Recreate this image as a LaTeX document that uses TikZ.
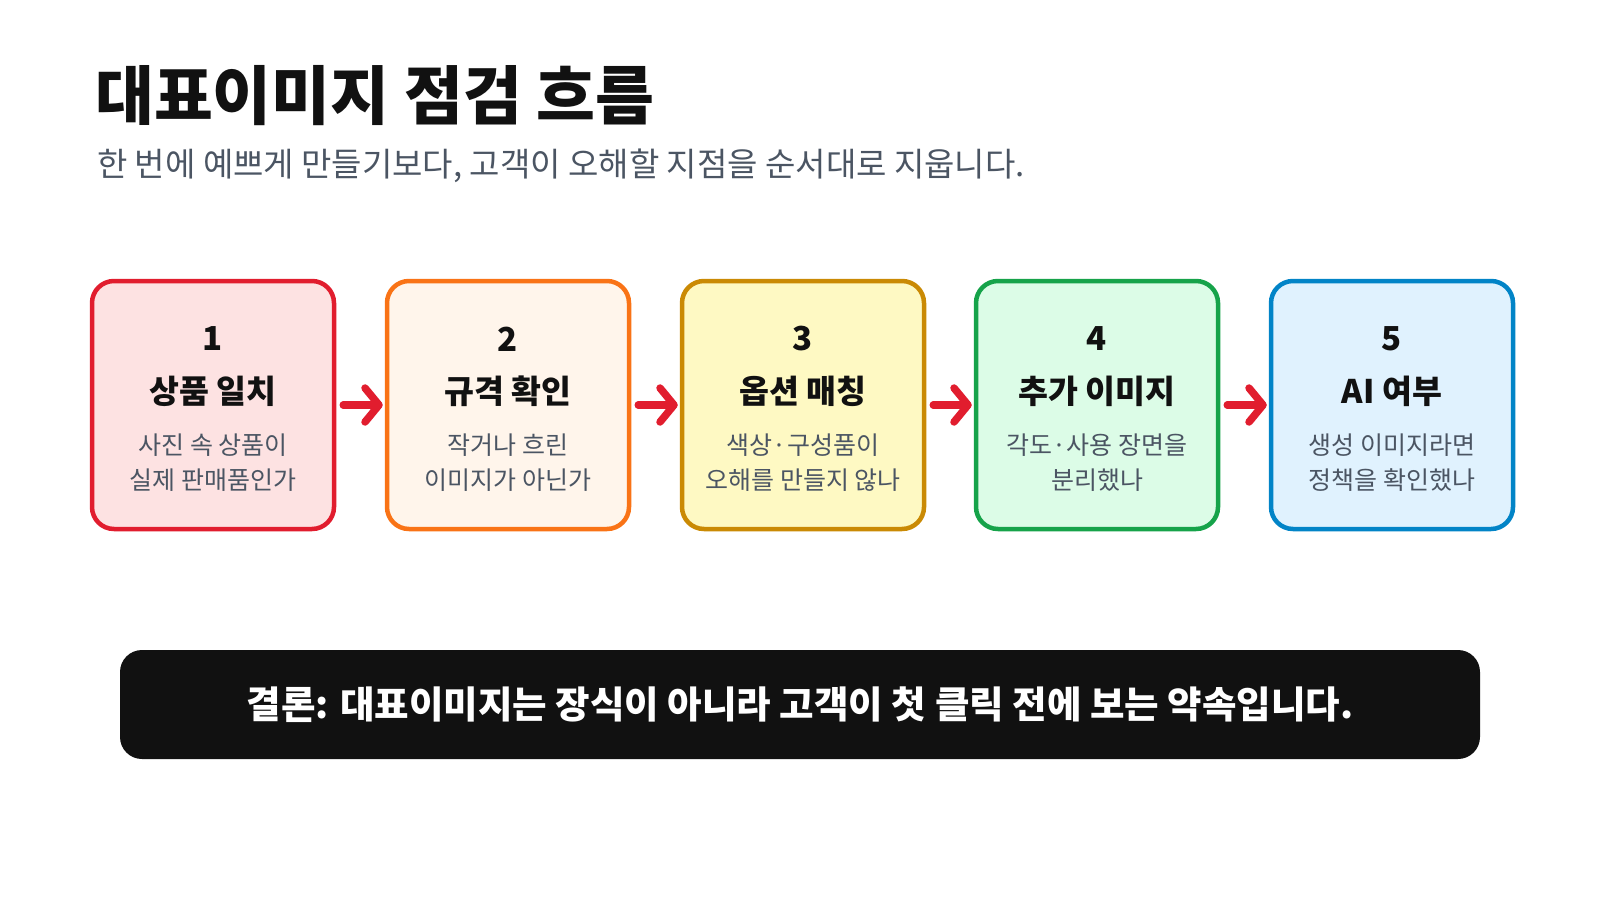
\documentclass[tikz,border=0pt]{standalone}
\usepackage{fontspec}
\setmainfont{Noto Sans CJK KR}
\usetikzlibrary{arrows.meta}

\definecolor{ink}{HTML}{111111}
\definecolor{subgray}{HTML}{4B5563}
\definecolor{arrowred}{HTML}{E11D2E}
\definecolor{redline}{HTML}{E11D2E}
\definecolor{redfill}{HTML}{FDE2E2}
\definecolor{orangeline}{HTML}{F97316}
\definecolor{orangefill}{HTML}{FFF5EB}
\definecolor{goldline}{HTML}{CA8A04}
\definecolor{goldfill}{HTML}{FEF9C3}
\definecolor{greenline}{HTML}{16A34A}
\definecolor{greenfill}{HTML}{DCFCE7}
\definecolor{blueline}{HTML}{0284C7}
\definecolor{bluefill}{HTML}{E0F2FE}

\begin{document}
\begin{tikzpicture}[x=1pt, y=-1pt,
	stepbox/.style={draw, line width=4.5pt, rounded corners=22pt, minimum width=242pt, minimum height=248pt, inner sep=0pt},
	numtext/.style={inner sep=0pt, text=ink, font=\fontsize{33}{38}\selectfont\bfseries},
	headtext/.style={inner sep=0pt, text=ink, font=\fontsize{32.5}{38}\selectfont\bfseries},
	desctext/.style={inner sep=0pt, text=subgray, font=\fontsize{25}{30}\selectfont},
	flow/.style={arrowred, line width=7.5pt, line cap=round, shorten <=7pt, shorten >=2pt, -{Straight Barb[length=14pt, width=34pt, round]}}]
			\useasboundingbox (0,0) rectangle (1600,900);
			\node[anchor=west, inner sep=0pt, text=ink, font=\fontsize{64}{76}\selectfont\bfseries] (title) at (95,96) {대표이미지 점검 흐름};
			\node[anchor=west, inner sep=0pt, text=subgray, font=\fontsize{33}{40}\selectfont] (subtitle) at (97,166) {한 번에 예쁘게 만들기보다, 고객이 오해할 지점을 순서대로 지웁니다.};
			% steps
			\node[stepbox, color=redline, fill=redfill] (s1) at (213,405) {};
			\node[numtext] (n1) at (213,339) {1};
			\node[headtext] (h1) at (213,391) {상품 일치};
			\node[desctext] (d1a) at (213,445) {사진 속 상품이};
			\node[desctext] (d1b) at (213,480) {실제 판매품인가};
			\node[stepbox, color=orangeline, fill=orangefill] (s2) at (508,405) {};
			\node[numtext] (n2) at (508,339) {2};
			\node[headtext] (h2) at (508,391) {규격 확인};
			\node[desctext] (d2a) at (508,445) {작거나 흐린};
			\node[desctext] (d2b) at (508,480) {이미지가 아닌가};
			\node[stepbox, color=goldline, fill=goldfill] (s3) at (803,405) {};
			\node[numtext] (n3) at (803,339) {3};
			\node[headtext] (h3) at (803,391) {옵션 매칭};
			\node[desctext] (d3a) at (803,445) {색상·구성품이};
			\node[desctext] (d3b) at (803,480) {오해를 만들지 않나};
			\node[stepbox, color=greenline, fill=greenfill] (s4) at (1097,405) {};
			\node[numtext] (n4) at (1097,339) {4};
			\node[headtext] (h4) at (1097,391) {추가 이미지};
			\node[desctext] (d4a) at (1097,445) {각도·사용 장면을};
			\node[desctext] (d4b) at (1097,480) {분리했나};
			\node[stepbox, color=blueline, fill=bluefill] (s5) at (1392,405) {};
			\node[numtext] (n5) at (1392,339) {5};
			\node[headtext] (h5) at (1392,391) {AI 여부};
			\node[desctext] (d5a) at (1392,445) {생성 이미지라면};
			\node[desctext] (d5b) at (1392,480) {정책을 확인했나};
			% arrows
			\draw[flow] (s1.east) -- (s2.west);
			\draw[flow] (s2.east) -- (s3.west);
			\draw[flow] (s3.east) -- (s4.west);
			\draw[flow] (s4.east) -- (s5.west);
			% conclusion
			\node[fill=ink, rounded corners=22pt, minimum width=1360pt, minimum height=109pt, inner sep=0pt, text=white, font=\fontsize{37.5}{44}\selectfont\bfseries] (verdict) at (800,704.5) {결론: 대표이미지는 장식이 아니라 고객이 첫 클릭 전에 보는 약속입니다.};
		\end{tikzpicture}
\end{document}
